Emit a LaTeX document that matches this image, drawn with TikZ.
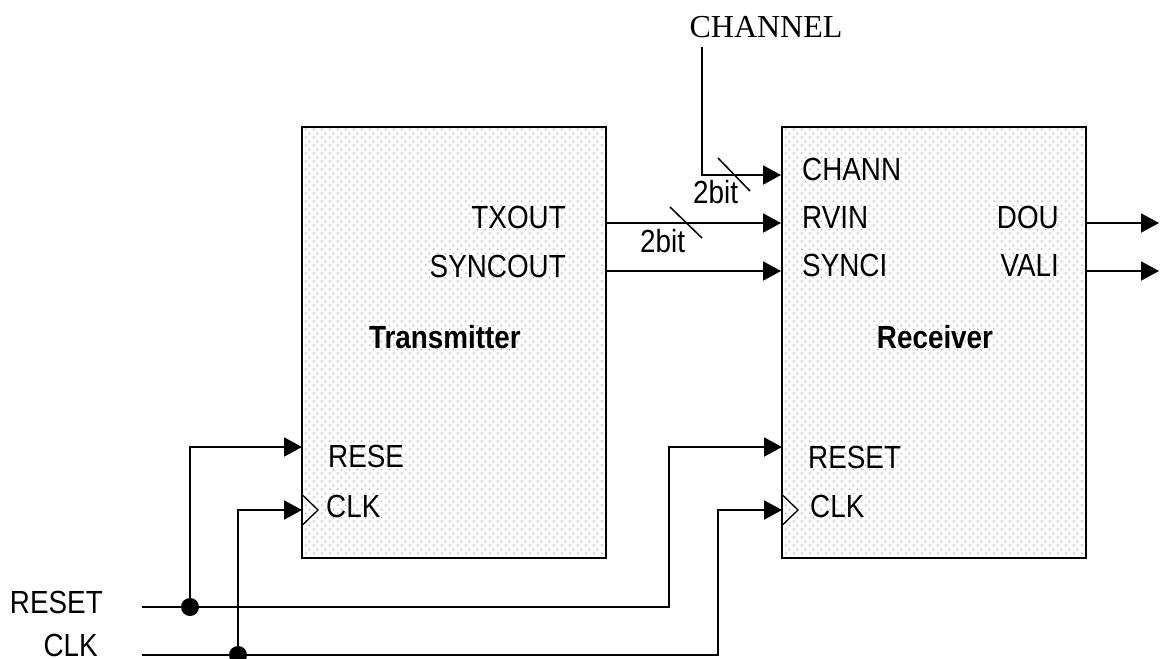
\documentclass[tikz,border=0pt]{standalone}
\usepackage{fontspec}
\setmainfont[FakeStretch=0.87]{Liberation Sans}
\newfontfamily\chfont{Liberation Serif}
\usetikzlibrary{arrows.meta,positioning,patterns.meta}

\tikzdeclarepattern{
  name=pindots,
  type=uncolored,
  bounding box={(0pt,0pt) and (8pt,8pt)},
  tile size={(8pt,8pt)},
  code={\fill (2pt,2pt) circle (1.1pt); \fill (6pt,6pt) circle (1.1pt);}
}

\tikzset{
  blockbox/.style={draw,line width=2pt,pattern=pindots,pattern color=black!30,
    minimum width=304pt,minimum height=431pt,inner sep=0pt},
  pinlbl/.style={inner sep=0pt,font=\fontsize{32}{34}\selectfont},
  sig/.style={line width=2pt,-{Triangle[length=18pt,width=19pt]}},
  wire/.style={line width=2pt},
  junction/.style={circle,fill,inner sep=0pt,minimum size=18pt},
  clkmark/.style={line width=1.3pt,line join=miter},
}

\begin{document}
\begin{tikzpicture}[x=1pt,y=-1pt]
\useasboundingbox (0,0) rectangle (1160,659);

% blocks
\node[blockbox] (tx) at (454,342.5) {};
\node[blockbox] (rx) at (934,342.5) {};
\node[pinlbl,font=\bfseries\fontsize{32}{34}\selectfont] (txname) at (445,337) {Transmitter};
\node[pinlbl,font=\bfseries\fontsize{32}{34}\selectfont] (rxname) at (935,337) {Receiver};

% pin labels
\node[pinlbl,anchor=base east] (txout) at (566,228) {TXOUT};
\node[pinlbl,anchor=base east] (syncout) at (566,277) {SYNCOUT};
\node[pinlbl,anchor=base west] (txrese) at (328,467) {RESE};
\node[pinlbl,anchor=base west] (txclkl) at (326,517) {CLK};
\node[pinlbl,anchor=base west] (chann) at (802,180) {CHANN};
\node[pinlbl,anchor=base west] (rvin) at (802,228) {RVIN};
\node[pinlbl,anchor=base west] (synci) at (802,276) {SYNCI};
\node[pinlbl,anchor=base west] (rxreset) at (808,468) {RESET};
\node[pinlbl,anchor=base west] (rxclkl) at (810,517) {CLK};
\node[pinlbl,anchor=base east] (dou) at (1059,228) {DOU};
\node[pinlbl,anchor=base east] (vali) at (1059,276) {VALI};

% outside signals
\node[pinlbl,anchor=base east] (resetlbl) at (103,613) {RESET};
\node[pinlbl,anchor=base east] (clklbl) at (98,656) {CLK};
\node[inner sep=0pt,anchor=base,font=\chfont\fontsize{32}{34}\selectfont] (channel) at (766,37) {CHANNEL};

\coordinate (resetin) at (142,607);
\coordinate (clkin) at (142,655);
\coordinate (chtop) at (702,47);
\node[junction] (rj) at (190,607) {};
\node[junction] (cj) at (238,655) {};
\coordinate (rup) at (669,447);
\coordinate (cup) at (718,510);
\coordinate (txrst) at (302,447);
\coordinate (txclk) at (302,510);
\coordinate (rxrst) at (782,447);
\coordinate (rxclk) at (782,510);
\coordinate (douend) at (1159,223);
\coordinate (valiend) at (1159,271);

% data paths
\draw[sig] (chtop) |- (rx.west |- 0,175);
\draw[sig] (tx.east |- 0,223) -- (rx.west |- 0,223);
\draw[sig] (tx.east |- 0,271) -- (rx.west |- 0,271);
\draw[sig] (rx.east |- douend) -- (douend);
\draw[sig] (rx.east |- valiend) -- (valiend);

% bus widths
\draw[wire,line width=1.5pt] (718,158) -- (750,191);
\node[pinlbl,anchor=base west] (w1) at (693,203) {2bit};
\draw[wire,line width=1.5pt] (670,207) -- (702,238);
\node[pinlbl,anchor=base west] (w2) at (640,252) {2bit};

% reset and clock
\draw[wire] (resetin) -- (rj);
\draw[sig] (rj) -- (rj -| rup) -- (rup) -- (rxrst);
\draw[sig] (rj) |- (txrst);
\draw[wire] (clkin) -- (cj);
\draw[sig] (cj) -- (cj -| cup) -- (cup) -- (rxclk);
\draw[sig] (cj) |- (txclk);
\draw[clkmark] (txclk) ++(0,-15.5) -- ++(16,15.5) -- ++(-16,15.5);
\draw[clkmark] (rxclk) ++(0,-15.5) -- ++(16,15.5) -- ++(-16,15.5);
\end{tikzpicture}
\end{document}
